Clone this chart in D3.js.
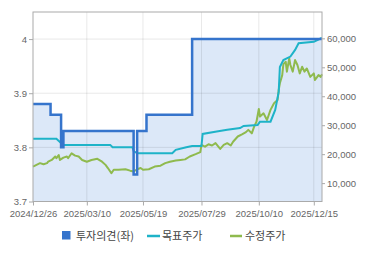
<!DOCTYPE html>
<html>
<head>
<meta charset="utf-8">
<script src="https://cdn.jsdelivr.net/npm/d3@7"></script>
<style>
  body { margin: 0; background: #fff; }
  svg text { font-family: "Liberation Sans", Arial, sans-serif; }
  .legend text { font-family: "Noto Sans CJK KR", sans-serif; }
</style>
</head>
<body>
<svg id="svg"></svg>
<script>
// x = trading day index since 2024/12/26
const tickDays = [0, 46, 94, 144, 193, 240];
const tickLabels = ['2024/12/26', '2025/03/10', '2025/05/19', '2025/07/29', '2025/10/10', '2025/12/15'];
const lastDay = 247;

const opinionTicks = [3.7, 3.8, 3.9, 4];
const priceTicks = [10000, 20000, 30000, 40000, 50000, 60000];

// 투자의견 (left axis)
const opinionDays = [0, 15, 24, 26, 86, 89, 97, 136, 247];
const opinionVals = [3.88, 3.86, 3.80, 3.83, 3.75, 3.83, 3.86, 4.00, 4.00];

// 목표주가 (right axis)
const targetDays = [0, 20, 23, 26, 66, 68, 85, 86, 89, 119, 122, 131, 136, 144, 145, 157, 166, 177, 180,
  192, 194, 203, 207, 210, 211, 214, 220, 224, 227, 240, 243, 246, 247];
const targetVals = [25300, 25300, 24200, 23200, 23200, 22400, 22400, 21100, 20300, 20300, 21500, 22400,
  22850, 22850, 27000, 27800, 28400, 29000, 29750, 30100, 31200, 31200, 35300, 41500, 50100, 52500,
  53700, 56000, 58300, 58800, 59400, 60000, 60000];

// 수정주가 (right axis)
const priceDays = [0, 3, 6, 9, 12, 13, 16, 19, 20, 22, 23, 26, 29, 30, 33, 36, 39, 42, 46, 50, 55, 59,
  62, 64, 67, 69, 73, 79, 83, 86, 89, 92, 94, 99, 104, 109, 113, 117, 122, 126, 130, 134, 139, 143,
  144, 147, 150, 153, 156, 160, 163, 166, 169, 171, 175, 179, 182, 184, 187, 189, 191, 193, 194, 197,
  200, 203, 206, 209, 210, 211, 213, 214, 216, 217, 219, 220, 222, 224, 226, 228, 230, 232, 234, 237,
  240, 241, 244, 246, 247];
const priceVals = [15700, 16300, 16900, 16500, 16900, 17400, 18000, 19200, 18600, 19700, 18000, 18800,
  19200, 18600, 20300, 19500, 19200, 18000, 17400, 18000, 18400, 17400, 16300, 15200, 13400, 14600,
  14600, 14800, 14300, 14000, 14800, 15200, 14600, 14800, 15700, 16000, 16900, 17400, 17800, 18000,
  18200, 19200, 20000, 20700, 23200, 22600, 23400, 23000, 23800, 21800, 23200, 23800, 23000, 24300,
  26100, 26900, 27600, 28400, 27200, 29500, 31200, 35600, 33000, 34100, 31800, 35300, 37600, 38700,
  42200, 44500, 47300, 51100, 51900, 48500, 53100, 50800, 48500, 52500, 50800, 47900, 50200, 48500,
  49600, 46700, 47900, 45600, 47300, 46700, 47600];

const W = 370, H = 255;
const L = 33, R = 322, T = 12, B = 201.5;

const svg = d3.select('#svg').attr('width', W).attr('height', H);

const x = d3.scaleLinear().domain([0, lastDay]).range([L, R]);
const yL = d3.scaleLinear().domain([3.7, 4.05]).range([B, T]);
const yR = d3.scaleLinear().domain([3650, 69100]).range([B, T]);

const opinion = opinionDays.map((d, i) => [d, opinionVals[i]]);
const target = targetDays.map((d, i) => [d, targetVals[i]]);
const price = priceDays.map((d, i) => [d, priceVals[i]]);

// fill under opinion step
svg.append('path')
  .datum(opinion)
  .attr('d', d3.area().curve(d3.curveStepAfter).x(d => x(d[0])).y0(B).y1(d => yL(d[1])))
  .attr('fill', '#dce8f8');

// grid
svg.append('g').selectAll('line')
  .data(opinionTicks.slice(1))
  .enter().append('line')
  .attr('x1', L).attr('x2', R)
  .attr('y1', d => yL(d)).attr('y2', d => yL(d))
  .attr('stroke', 'rgba(0,0,0,0.09)');
svg.append('g').selectAll('line')
  .data(tickDays.slice(1))
  .enter().append('line')
  .attr('x1', d => x(d)).attr('x2', d => x(d))
  .attr('y1', T).attr('y2', B)
  .attr('stroke', 'rgba(0,0,0,0.09)');

// series
svg.append('path')
  .datum(price)
  .attr('d', d3.line().x(d => x(d[0])).y(d => yR(d[1])))
  .attr('fill', 'none').attr('stroke', '#8fba4e').attr('stroke-width', 2)
  .attr('stroke-linejoin', 'round');

svg.append('path')
  .datum(target)
  .attr('d', d3.line().x(d => x(d[0])).y(d => yR(d[1])))
  .attr('fill', 'none').attr('stroke', '#1eb3c8').attr('stroke-width', 2);

svg.append('path')
  .datum(opinion)
  .attr('d', d3.line().curve(d3.curveStepAfter).x(d => x(d[0])).y(d => yL(d[1])))
  .attr('fill', 'none').attr('stroke', '#3574cc').attr('stroke-width', 2.5);

// frame
svg.append('rect')
  .attr('x', L).attr('y', T).attr('width', R - L).attr('height', B - T)
  .attr('fill', 'none').attr('stroke', '#aaaaaa');

// axes
const axisL = d3.axisLeft(yL).tickValues(opinionTicks).tickSize(4).tickPadding(2)
  .tickFormat(d => d3.format('')(d));
const axisR = d3.axisRight(yR).tickValues(priceTicks).tickSize(3).tickPadding(2)
  .tickFormat(d3.format(','));
const axisB = d3.axisBottom(x).tickValues(tickDays).tickSize(4).tickPadding(5)
  .tickFormat((d, i) => tickLabels[i]);

function style(g) {
  g.select('.domain').remove();
  g.selectAll('line').attr('stroke', '#aaaaaa');
  g.selectAll('text').attr('fill', '#666').style('font-size', '9.5px')
    .style('font-family', '"Liberation Sans", Arial, sans-serif');
}
svg.append('g').attr('transform', `translate(${L},0)`).call(axisL).call(style);
svg.append('g').attr('transform', `translate(${R},0)`).call(axisR).call(style);
svg.append('g').attr('transform', `translate(0,${B})`).call(axisB).call(style);

// legend
const legend = svg.append('g').attr('class', 'legend');
legend.append('rect').attr('x', 62).attr('y', 231).attr('width', 8.5).attr('height', 8.5).attr('fill', '#3574cc');
legend.append('text').attr('x', 76).attr('y', 240).text('투자의견(좌)');
legend.append('line').attr('x1', 147).attr('x2', 160).attr('y1', 236).attr('y2', 236)
  .attr('stroke', '#1eb3c8').attr('stroke-width', 2.5);
legend.append('text').attr('x', 162).attr('y', 240).text('목표주가');
legend.append('line').attr('x1', 230).attr('x2', 242).attr('y1', 236).attr('y2', 236)
  .attr('stroke', '#8fba4e').attr('stroke-width', 2.5);
legend.append('text').attr('x', 245).attr('y', 240).text('수정주가');
legend.selectAll('text').attr('fill', '#444').style('font-size', '11px');
</script>
</body>
</html>
